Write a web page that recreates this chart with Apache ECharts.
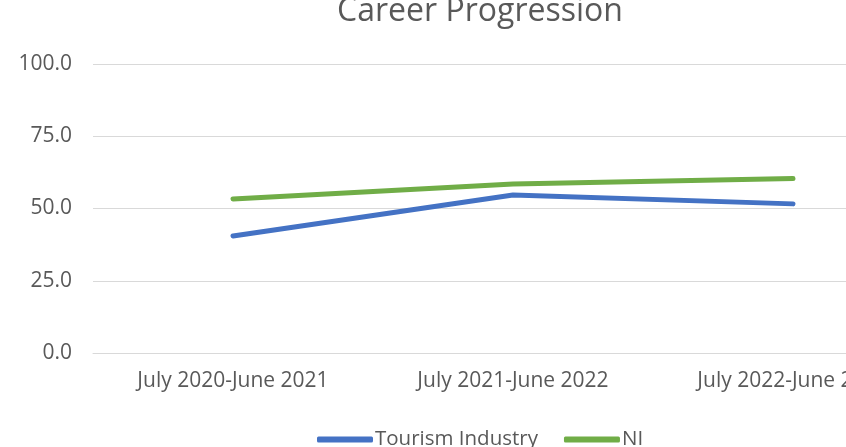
<!DOCTYPE html>
<html>
<head>
<meta charset="utf-8">
<script src="https://cdn.jsdelivr.net/npm/echarts@6/dist/echarts.min.js"></script>
<style>html,body{margin:0;padding:0;background:#fff;}#c{width:846px;height:447px;}</style>
</head>
<body>
<div id="c"></div>
<script>
const categories = ['July 2020-June 2021', 'July 2021-June 2022', 'July 2022-June 2023'];
const tourismIndustry = [40.5, 54.7, 51.6];
const ni = [53.3, 58.5, 60.4];
const yTicks = [0, 25, 50, 75, 100];

const FONT = 'Open Sans';
const chart = echarts.init(document.getElementById('c'), null, {renderer: 'canvas'});
chart.setOption({
  animation: false,
  backgroundColor: '#ffffff',
  title: {
    text: 'Career Progression',
    left: 475, textAlign: 'center', top: -9,
    textStyle: {fontFamily: FONT, fontSize: 32, fontWeight: 'normal', color: '#595959'}
  },
  legend: {
    bottom: -8, left: 312,
    icon: 'roundRect', itemWidth: 56, itemHeight: 6, itemGap: 26,
    textStyle: {fontFamily: FONT, fontSize: 20.5, color: '#595959', padding: [0, 0, 0, -3]},
    data: ['Tourism Industry', 'NI']
  },
  grid: {left: 93, top: 64, width: 840, height: 289, containLabel: false, outerBoundsMode: 'none'},
  xAxis: {
    type: 'category', data: categories, boundaryGap: true,
    axisLine: {show: true, lineStyle: {color: '#D9D9D9', width: 1}},
    axisTick: {show: false},
    axisLabel: {fontFamily: FONT, fontSize: 21, color: '#595959', margin: 18, interval: 0}
  },
  yAxis: {
    type: 'value', min: yTicks[0], max: yTicks[yTicks.length - 1], interval: 25,
    axisLine: {show: false}, axisTick: {show: false},
    splitLine: {lineStyle: {color: '#D9D9D9', width: 1}},
    axisLabel: {fontFamily: FONT, fontSize: 21, color: '#595959', margin: 21,
      formatter: v => v.toFixed(1)}
  },
  series: [
    {name: 'Tourism Industry', type: 'line', data: tourismIndustry, symbol: 'none',
     color: '#4472C4', lineStyle: {width: 5, cap: 'round', join: 'round'}},
    {name: 'NI', type: 'line', data: ni, symbol: 'none',
     color: '#70AD47', lineStyle: {width: 5, cap: 'round', join: 'round'}}
  ]
});
</script>
</body>
</html>
